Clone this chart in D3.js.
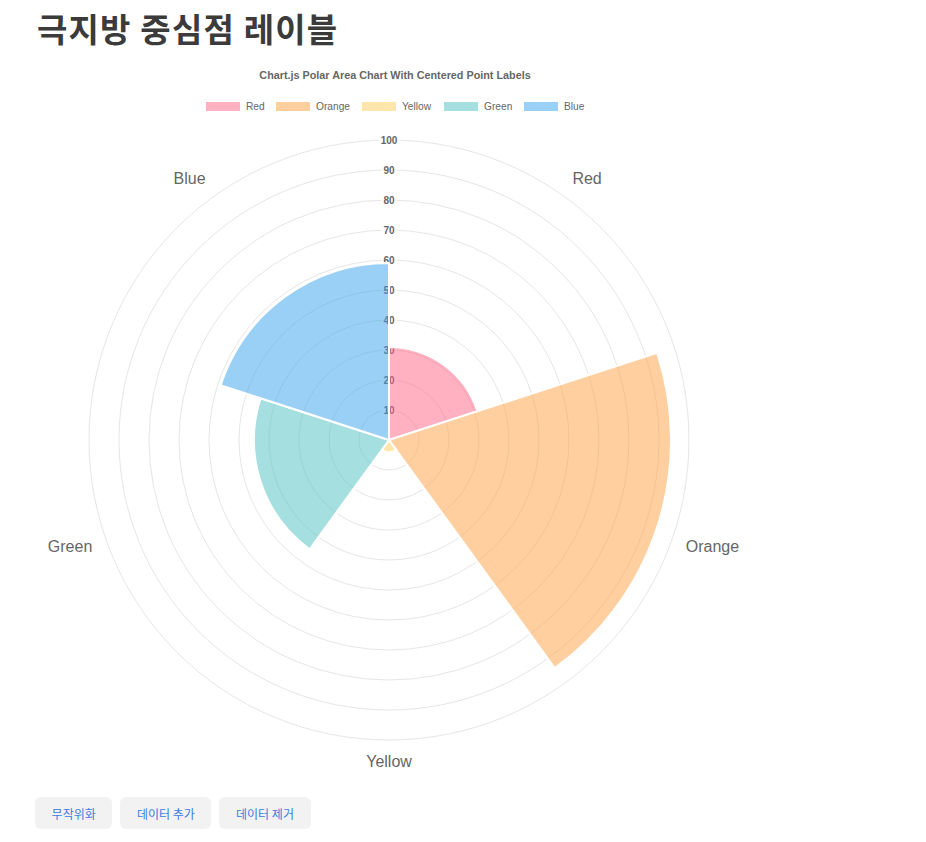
<!DOCTYPE html>
<html>
<head>
<meta charset="utf-8">
<script src="https://cdn.jsdelivr.net/npm/d3@7"></script>
<style>
  body { margin: 0; background: #fff; font-family: "Liberation Sans", Arial, sans-serif; }
  h1 { position: absolute; left: 37px; top: 4px; margin: 0; font-size: 33px; letter-spacing: 1.2px; font-weight: bold; color: #3b3b3b; font-family: "Noto Sans CJK KR", sans-serif; }
  .btns { position: absolute; left: 35px; top: 797px; display: flex; gap: 8px; }
  .btns button { border: none; background: #f2f2f2; border-radius: 6px; height: 32px; padding: 0 16.6px; color: #3b7de0; font-size: 12px; font-family: "Noto Sans CJK KR", sans-serif; }
  svg { position: absolute; left: 0; top: 0; }
</style>
</head>
<body>
<h1>극지방 중심점 레이블</h1>
<svg id="chart" width="926" height="790"></svg>
<div class="btns"><button>무작위화</button><button>데이터 추가</button><button>데이터 제거</button></div>
<script>
const labels = ["Red", "Orange", "Yellow", "Green", "Blue"];
const values = [31, 94, 4, 45, 59];
const colors = ["rgba(255,99,132,0.5)", "rgba(255,159,64,0.5)", "rgba(255,205,86,0.5)", "rgba(75,192,192,0.5)", "rgba(54,162,235,0.5)"];
const tickValues = [10, 20, 30, 40, 50, 60, 70, 80, 90, 100];
const chartTitle = "Chart.js Polar Area Chart With Centered Point Labels";

const svg = d3.select("#chart");
const cx = 389, cy = 440;
const r = d3.scaleLinear().domain([0, 100]).range([0, 300]);
const angle = d3.scaleBand().domain(labels).range([0, 2 * Math.PI]);

// title
svg.append("text").attr("x", 395).attr("y", 79).attr("text-anchor", "middle")
  .attr("font-size", 10.8).attr("font-weight", "bold").attr("fill", "#666").text(chartTitle);

// legend
const legendX = [206, 276, 362, 444, 524];
const lg = svg.append("g");
labels.forEach((l, i) => {
  lg.append("rect").attr("x", legendX[i]).attr("y", 102).attr("width", 34).attr("height", 9).attr("fill", colors[i]);
  lg.append("text").attr("x", legendX[i] + 40).attr("y", 110).attr("font-size", 10.2).attr("fill", "#666").text(l);
});

const g = svg.append("g").attr("transform", `translate(${cx},${cy})`);

// grid
g.selectAll("circle.grid").data(tickValues).enter().append("circle")
  .attr("r", d => r(d)).attr("fill", "none").attr("stroke", "#e6e6e6").attr("stroke-width", 1);

// tick labels with backdrop
const tg = g.append("g");
tickValues.forEach(v => {
  const t = tg.append("text").attr("x", 0).attr("y", -r(v)).attr("dy", "0.35em")
    .attr("text-anchor", "middle").attr("font-size", 10).attr("font-weight", "bold").attr("fill", "#666").text(v);
  const bb = t.node().getBBox();
  tg.insert("rect", "text").attr("x", bb.x - 2).attr("y", bb.y - 1).attr("width", bb.width + 4).attr("height", bb.height + 2)
    .attr("fill", "rgba(255,255,255,0.75)");
});
tg.selectAll("text").raise();

// sectors
const arc = d3.arc().innerRadius(0);
g.selectAll("path.sector").data(labels).enter().append("path")
  .attr("d", (d, i) => arc({ outerRadius: r(values[i]), startAngle: angle(d), endAngle: angle(d) + angle.bandwidth() }))
  .attr("fill", (d, i) => colors[i]).attr("stroke", "#fff").attr("stroke-width", 2).attr("stroke-linejoin", "round");

// point labels (Chart.js-like alignment)
const R = r(100) + 12, lh = 19.2;
labels.forEach((l, i) => {
  const a = angle(l) + angle.bandwidth() / 2;
  const s = Math.sin(a), c = -Math.cos(a);
  const x = R * s;
  let y = R * c;
  if (c < -0.01) y -= lh / 2; else if (c > 0.01) y += lh / 2;
  const anchor = s > 0.01 ? "start" : (s < -0.01 ? "end" : "middle");
  g.append("text").attr("x", x).attr("y", y).attr("dy", "0.35em").attr("text-anchor", anchor)
    .attr("font-size", 16).attr("fill", "#666").text(l);
});
</script>
</body>
</html>
